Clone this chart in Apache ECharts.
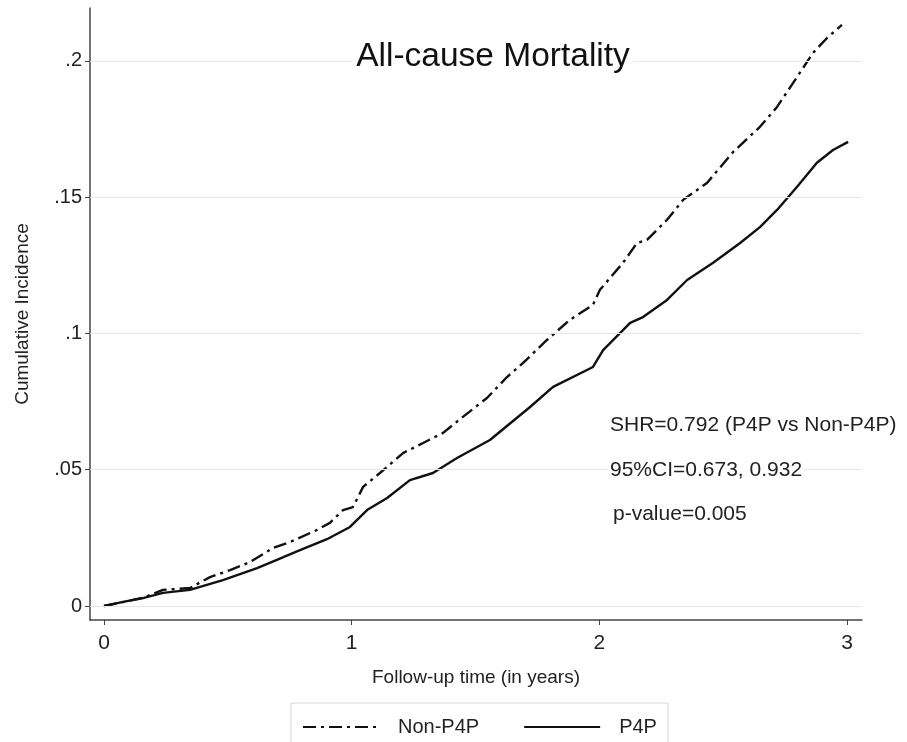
<!DOCTYPE html>
<html>
<head>
<meta charset="utf-8">
<script src="https://cdn.jsdelivr.net/npm/echarts@6/dist/echarts.min.js"></script>
<style>
html,body{margin:0;padding:0;background:#fff;}
#chart{width:907px;height:742px;}
</style>
</head>
<body>
<div id="chart"></div>
<script>
// Data
const nonP4PTime  = [0, 0.08, 0.157, 0.238, 0.347, 0.428, 0.509, 0.589, 0.682, 0.751, 0.86, 0.912, 0.965, 1.005, 1.046, 1.114, 1.207, 1.288, 1.369, 1.449, 1.546, 1.627, 1.692, 1.788, 1.881, 1.974, 2.002, 2.095, 2.152, 2.192, 2.273, 2.338, 2.434, 2.539, 2.648, 2.717, 2.798, 2.862, 2.919, 2.979];
const nonP4PValue = [0, 0.0015, 0.003, 0.0059, 0.0066, 0.0106, 0.0132, 0.0161, 0.0213, 0.0235, 0.0279, 0.0305, 0.0352, 0.0363, 0.0437, 0.0488, 0.0561, 0.0598, 0.0635, 0.0694, 0.0763, 0.084, 0.0892, 0.0976, 0.105, 0.1105, 0.116, 0.1259, 0.1332, 0.1343, 0.1417, 0.149, 0.1552, 0.1665, 0.1758, 0.1831, 0.1941, 0.2029, 0.2084, 0.2132];
const p4pTime  = [0, 0.077, 0.157, 0.238, 0.347, 0.48, 0.618, 0.698, 0.779, 0.9, 0.993, 1.062, 1.143, 1.235, 1.328, 1.425, 1.558, 1.72, 1.813, 1.974, 2.015, 2.124, 2.176, 2.273, 2.354, 2.459, 2.568, 2.648, 2.717, 2.798, 2.878, 2.943, 3.004];
const p4pValue = [0, 0.0015, 0.0029, 0.0048, 0.0059, 0.0095, 0.0139, 0.0169, 0.02, 0.0245, 0.029, 0.0352, 0.0396, 0.0462, 0.0488, 0.0543, 0.0609, 0.073, 0.0804, 0.0877, 0.0939, 0.1039, 0.106, 0.1123, 0.1196, 0.1259, 0.1332, 0.139, 0.1453, 0.1538, 0.1626, 0.1673, 0.1703];
const xTicks = [0, 1, 2, 3];
const yTicks = [0, 0.05, 0.1, 0.15, 0.2];
const seriesNames = ['Non-P4P', 'P4P'];
const titleText = 'All-cause Mortality';
const statTexts = ['SHR=0.792 (P4P vs Non-P4P)', '95%CI=0.673, 0.932', 'p-value=0.005'];

const FONT = '"Liberation Sans", Arial, Helvetica, sans-serif';
const pairs = (xs, ys) => xs.map((x, i) => [x, ys[i]]);

const chart = echarts.init(document.getElementById('chart'), null, {renderer: 'canvas'});
chart.setOption({
  backgroundColor: '#fff',
  animation: false,
  textStyle: {fontFamily: FONT},
  grid: {left: 90, right: 45, top: 8, bottom: 122, containLabel: false},
  xAxis: {
    type: 'value', min: -0.0565, max: 3.06,
    name: 'Follow-up time (in years)', nameLocation: 'middle', nameGap: 48,
    nameTextStyle: {fontSize: 19, color: '#222', fontFamily: FONT},
    axisLine: {show: true, onZero: false, lineStyle: {color: '#444', width: 1.5}},
    axisTick: {show: true, length: 5, customValues: xTicks, lineStyle: {color: '#444', width: 1}},
    axisLabel: {customValues: xTicks, fontSize: 21, color: '#222', margin: 13, fontFamily: FONT},
    splitLine: {show: false}
  },
  yAxis: {
    type: 'value', min: -0.00514, max: 0.2194,
    name: 'Cumulative Incidence', nameLocation: 'middle', nameGap: 58,
    nameTextStyle: {fontSize: 19, color: '#222', fontFamily: FONT},
    axisLine: {show: true, onZero: false, lineStyle: {color: '#444', width: 1.5}},
    axisTick: {show: true, length: 5, customValues: yTicks, lineStyle: {color: '#444', width: 1}},
    axisLabel: {customValues: yTicks, fontSize: 20, color: '#222', margin: 8, fontFamily: FONT,
      formatter: v => v === 0 ? '0' : String(+v.toFixed(3)).replace(/^0/, '')},
    splitLine: {show: false}
  },
  legend: {
    data: seriesNames,
    left: 291, top: 703,
    padding: [14, 11, 30, 11],
    borderColor: '#d8d8d8', borderWidth: 1,
    itemWidth: 76, itemHeight: 16, itemGap: 44,
    itemStyle: {opacity: 0},
    textStyle: {fontSize: 20, color: '#222', fontFamily: FONT, padding: [0, 0, 0, 14]}
  },
  series: [
    {
      type: 'line', name: '_grid', silent: true, data: [], z: 1,
      markLine: {
        silent: true, symbol: 'none', label: {show: false},
        lineStyle: {color: '#e6e6e6', width: 1, type: 'solid'},
        data: yTicks.map(v => ({yAxis: v}))
      }
    },
    {
      type: 'line', name: seriesNames[0], data: pairs(nonP4PTime, nonP4PValue),
      symbol: 'none', z: 3,
      lineStyle: {color: '#111', width: 2.4, type: [13, 5, 3, 5]},
      itemStyle: {color: '#111'}
    },
    {
      type: 'line', name: seriesNames[1], data: pairs(p4pTime, p4pValue),
      symbol: 'none', z: 3,
      lineStyle: {color: '#111', width: 2.4, type: 'solid'},
      itemStyle: {color: '#111'}
    }
  ],
  graphic: [
    {type: 'text', z: 10, x: 493, y: 57, style: {text: titleText, font: '33.5px ' + FONT, fill: '#111', textAlign: 'center', textVerticalAlign: 'middle', backgroundColor: '#fff', padding: [2, 4]}},
    {type: 'text', z: 10, x: 608, y: 425, style: {text: statTexts[0], font: '21px ' + FONT, fill: '#222', textVerticalAlign: 'middle', backgroundColor: '#fff', padding: [1, 2]}},
    {type: 'text', z: 10, x: 608, y: 470, style: {text: statTexts[1], font: '21px ' + FONT, fill: '#222', textVerticalAlign: 'middle', backgroundColor: '#fff', padding: [1, 2]}},
    {type: 'text', z: 10, x: 611, y: 514, style: {text: statTexts[2], font: '21px ' + FONT, fill: '#222', textVerticalAlign: 'middle', backgroundColor: '#fff', padding: [1, 2]}}
  ]
});
</script>
</body>
</html>
